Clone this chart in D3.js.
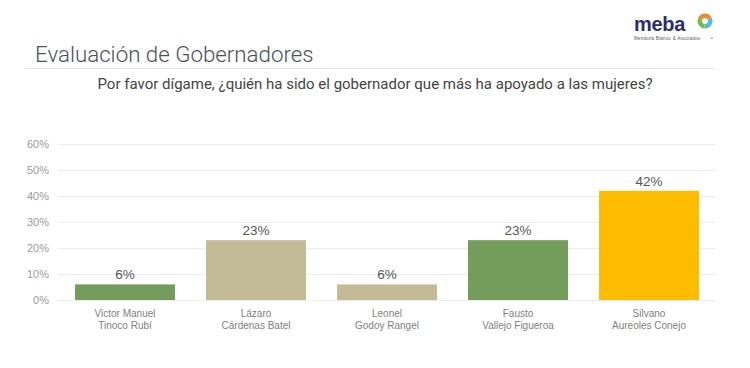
<!DOCTYPE html>
<html>
<head>
<meta charset="utf-8">
<script src="https://cdn.jsdelivr.net/npm/d3@7"></script>
<style>
  body { margin: 0; background: #fff; }
  svg text { font-family: "Liberation Sans", Arial, sans-serif; }
</style>
</head>
<body>
<div id="chart"></div>
<script>
let names = [
  ["Victor Manuel", "Tinoco Rubí"],
  ["Lázaro", "Cárdenas Batel"],
  ["Leonel", "Godoy Rangel"],
  ["Fausto", "Vallejo Figueroa"],
  ["Silvano", "Aureoles Conejo"]
];
let values = [6, 23, 6, 23, 42];
let colors = ["#749c5a", "#c2bb95", "#c2bb95", "#749c5a", "#fdbc00"];
let ticks = [0, 10, 20, 30, 40, 50, 60];

let width = 750;
let height = 368;

let svg = d3
  .select("#chart")
  .append("svg")
  .attr("width", width)
  .attr("height", height);

// header
svg.append("text")
  .attr("x", 35)
  .attr("y", 62)
  .attr("font-size", 22.3)
  .attr("fill", "#4a5058")
  .style("font-family", "Roboto, 'Liberation Sans', sans-serif")
  .style("font-weight", 300)
  .text("Evaluación de Gobernadores");

svg.append("line")
  .attr("x1", 25).attr("x2", 715)
  .attr("y1", 68.5).attr("y2", 68.5)
  .attr("stroke", "#e2e2e2");

svg.append("text")
  .attr("x", 375)
  .attr("y", 89)
  .attr("text-anchor", "middle")
  .attr("font-size", 15)
  .attr("fill", "#444")
  .style("font-family", "Roboto, 'Liberation Sans', sans-serif")
  .text("Por favor dígame, ¿quién ha sido el gobernador que más ha apoyado a las mujeres?");

// logo
let logo = svg.append("g");
logo.append("text")
  .attr("x", 634)
  .attr("y", 31)
  .attr("font-size", 20)
  .attr("font-weight", "bold")
  .attr("fill", "#2b2e6b")
  .attr("letter-spacing", -0.3)
  .text("meba");
logo.append("text")
  .attr("x", 634)
  .attr("y", 40)
  .attr("font-size", 4.5)
  .attr("fill", "#555")
  .attr("textLength", 66)
  .text("Mendoza Blanco & Asociados");

let logoArc = d3.arc().innerRadius(3).outerRadius(7.5);
let logoParts = [
  { startAngle: -1.2, endAngle: 1.0, color: "#f08a2c" },
  { startAngle: 1.0, endAngle: 3.2, color: "#5bb6e0" },
  { startAngle: 3.2, endAngle: 5.08, color: "#6cbf4a" }
];
logo.append("g")
  .attr("transform", "translate(705,21)")
  .selectAll("path")
  .data(logoParts)
  .enter()
  .append("path")
  .attr("d", logoArc)
  .attr("fill", d => d.color);
logo.append("text").attr("x", 711).attr("y", 40).attr("font-size", 5).attr("fill", "#666").text("•");

// scales
let xScale = d3.scaleBand()
  .domain(d3.range(values.length))
  .range([59.5, 714.5])
  .paddingInner(0.237)
  .paddingOuter(0.1185);

let yScale = d3.scaleLinear()
  .domain([0, 60])
  .range([300, 144]);

// grid
svg.append("g")
  .selectAll("line")
  .data(ticks)
  .enter()
  .append("line")
  .attr("x1", 58)
  .attr("x2", 715)
  .attr("y1", d => Math.round(yScale(d)) + 0.5)
  .attr("y2", d => Math.round(yScale(d)) + 0.5)
  .attr("stroke", "#ececec");

let yAxis = d3.axisLeft(yScale)
  .tickValues(ticks)
  .tickFormat(d => d + "%")
  .tickSize(0)
  .tickPadding(0);

svg.append("g")
  .attr("transform", "translate(49,0)")
  .call(yAxis)
  .call(g => g.select(".domain").remove())
  .call(g => g.selectAll("text")
    .attr("font-size", 11)
    .attr("fill", "#9a9a9a")
    .style("font-family", "'Liberation Sans', Arial, sans-serif"));

// bars
let bars = svg.selectAll(".bar")
  .data(values)
  .enter();

bars.append("rect")
  .attr("x", (d, i) => xScale(i))
  .attr("y", d => yScale(d))
  .attr("width", xScale.bandwidth())
  .attr("height", d => yScale(0) - yScale(d))
  .attr("fill", (d, i) => colors[i]);

bars.append("text")
  .attr("x", (d, i) => xScale(i) + xScale.bandwidth() / 2)
  .attr("y", d => yScale(d) - 5)
  .attr("text-anchor", "middle")
  .attr("font-size", 13.5)
  .attr("fill", "#555")
  .text(d => d + "%");

// category labels
let xAxis = d3.axisBottom(xScale).tickSize(0).tickFormat("");
let xg = svg.append("g")
  .attr("transform", "translate(0,300)")
  .call(xAxis)
  .call(g => g.select(".domain").remove());

xg.selectAll(".tick").each(function(d) {
  let t = d3.select(this).append("text")
    .attr("text-anchor", "middle")
    .attr("font-size", 10)
    .attr("fill", "#808080");
  t.append("tspan").attr("x", 0).attr("y", 17).text(names[d][0]);
  t.append("tspan").attr("x", 0).attr("y", 29).text(names[d][1]);
});
</script>
</body>
</html>
